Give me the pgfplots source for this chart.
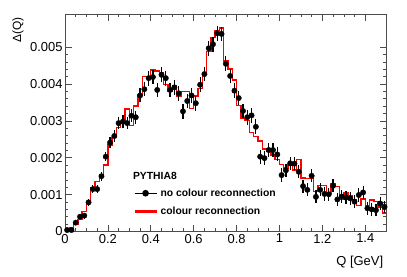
\documentclass[border=0pt]{standalone}
\usepackage{fontspec}
\setmainfont{Liberation Sans}
\usepackage{pgfplots}
\pgfplotsset{compat=1.18}
\pgfplotstableread{
x y ey
0.01 0.00004 0.00004
0.03 0.00004 0.00005
0.05 0.00024 0.00006
0.07 0.00040 0.00007
0.09 0.00043 0.00008
0.11 0.00079 0.00009
0.13 0.00115 0.00010
0.15 0.00115 0.00011
0.17 0.00150 0.00012
0.19 0.00203 0.00013
0.21 0.00241 0.00014
0.23 0.00259 0.00015
0.25 0.00294 0.00016
0.27 0.00298 0.00017
0.29 0.00294 0.00017
0.31 0.00314 0.00018
0.33 0.00310 0.00018
0.35 0.00369 0.00019
0.37 0.00386 0.00019
0.39 0.00416 0.00020
0.41 0.00419 0.00020
0.43 0.00384 0.00020
0.45 0.00425 0.00020
0.47 0.00416 0.00020
0.49 0.00384 0.00020
0.51 0.00391 0.00020
0.53 0.00375 0.00020
0.55 0.00326 0.00020
0.57 0.00354 0.00020
0.59 0.00369 0.00020
0.61 0.00348 0.00020
0.63 0.00398 0.00020
0.65 0.00427 0.00020
0.67 0.00497 0.00020
0.69 0.00508 0.00020
0.71 0.00538 0.00020
0.73 0.00536 0.00020
0.75 0.00455 0.00020
0.77 0.00422 0.00020
0.79 0.00382 0.00020
0.81 0.00362 0.00020
0.83 0.00327 0.00020
0.85 0.00310 0.00020
0.87 0.00315 0.00020
0.89 0.00284 0.00020
0.91 0.00203 0.00019
0.93 0.00199 0.00019
0.95 0.00221 0.00019
0.97 0.00221 0.00019
0.99 0.00209 0.00019
1.01 0.00153 0.00018
1.03 0.00166 0.00018
1.05 0.00185 0.00018
1.07 0.00184 0.00018
1.09 0.00162 0.00018
1.11 0.00123 0.00018
1.13 0.00113 0.00018
1.15 0.00151 0.00018
1.17 0.00094 0.00018
1.19 0.00113 0.00018
1.21 0.00102 0.00018
1.23 0.00101 0.00018
1.25 0.00124 0.00018
1.27 0.00087 0.00018
1.29 0.00095 0.00018
1.31 0.00092 0.00018
1.33 0.00090 0.00018
1.35 0.00081 0.00018
1.37 0.00099 0.00018
1.39 0.00106 0.00018
1.41 0.00063 0.00017
1.43 0.00060 0.00017
1.45 0.00058 0.00017
1.47 0.00076 0.00017
1.49 0.00067 0.00017
}\datatable
\pgfplotstableread{
x y
0.00 0.00003
0.02 0.00010
0.04 0.00020
0.06 0.00032
0.08 0.00055
0.10 0.00080
0.12 0.00118
0.14 0.00135
0.16 0.00153
0.18 0.00180
0.20 0.00235
0.22 0.00255
0.24 0.00282
0.26 0.00298
0.28 0.00332
0.30 0.00287
0.32 0.00340
0.34 0.00370
0.36 0.00420
0.38 0.00420
0.40 0.00438
0.42 0.00435
0.44 0.00430
0.46 0.00398
0.48 0.00380
0.50 0.00395
0.52 0.00368
0.54 0.00380
0.56 0.00380
0.58 0.00333
0.60 0.00368
0.62 0.00388
0.64 0.00430
0.66 0.00488
0.68 0.00527
0.70 0.00545
0.72 0.00552
0.74 0.00463
0.76 0.00441
0.78 0.00411
0.80 0.00341
0.82 0.00307
0.84 0.00301
0.86 0.00269
0.88 0.00258
0.90 0.00246
0.92 0.00224
0.94 0.00218
0.96 0.00208
0.98 0.00196
1.00 0.00181
1.02 0.00172
1.04 0.00180
1.06 0.00167
1.08 0.00196
1.10 0.00145
1.12 0.00144
1.14 0.00144
1.16 0.00108
1.18 0.00124
1.20 0.00124
1.22 0.00104
1.24 0.00131
1.26 0.00122
1.28 0.00086
1.30 0.00105
1.32 0.00096
1.34 0.00086
1.36 0.00070
1.38 0.00088
1.40 0.00070
1.42 0.00085
1.44 0.00082
1.46 0.00067
1.48 0.00050
1.50 0.00050
}\mctable
\begin{document}
\begin{tikzpicture}
\path[use as bounding box] (-65bp,-45.5bp) rectangle (342bp,231.5bp);
\begin{axis}[
  at={(0,0)}, anchor=south west,
  scale only axis, width=321.7bp, height=217.5bp,
  xmin=0, xmax=1.5, ymin=0, ymax=0.0059,
  xtick={0,0.2,0.4,0.6,0.8,1.0,1.2,1.4},
  xticklabels={0,0.2,0.4,0.6,0.8,1,1.2,1.4},
  minor x tick num=3,
  ytick={0,0.001,0.002,0.003,0.004,0.005},
  yticklabels={0,0.001,0.002,0.003,0.004,0.005},
  minor y tick num=4,
  scaled y ticks=false,
  tick align=inside,
  xtick pos=both, ytick pos=both,
  xticklabel pos=lower, yticklabel pos=left,
  major tick length=7bp, minor tick length=3.5bp,
  every tick/.style={black!70, line width=0.6bp},
  axis line style={black!70, line width=0.8bp},
  tick label style={font=\fontsize{13}{15}\selectfont},
  xticklabel style={yshift=1bp},
  yticklabel style={xshift=1bp},
  ylabel={Δ(Q)},
  ylabel style={at={(axis description cs:-0.146,1.002)}, anchor=east, font=\fontsize{12}{14}\selectfont},
  xlabel={Q [GeV]},
  xlabel style={at={(axis description cs:1,-0.158)}, anchor=base east, font=\fontsize{13}{15}\selectfont},
  legend image code/.code={\draw[mark repeat=2,mark phase=2,#1] plot coordinates {(0bp,0bp) (11bp,0bp) (22bp,0bp)};},
  legend style={at={(axis description cs:0.211,0.209)}, anchor=north west, draw=none, fill=none,
    font=\bfseries\fontsize{10.4}{12}\selectfont, row sep=4bp, inner sep=0pt,
    nodes={inner sep=2.5bp}},
  legend cell align=left,
  clip=true,
]
\addplot[red, line width=1.4bp, const plot, forget plot] table[x=x,y=y] {\mctable};
\addplot[black, only marks, mark=*, mark size=2.7bp, forget plot,
  error bars/.cd, y dir=both, y explicit,
  error bar style={line width=1.2bp, black}, error mark=none]
  table[x=x,y=y,y error=ey] {\datatable};
\addlegendimage{black, mark=*, mark size=2.7bp, line width=1.2bp}
\addlegendentry{no colour reconnection}
\addlegendimage{red, line width=3bp}
\addlegendentry{colour reconnection}
\node[anchor=west, font=\bfseries\fontsize{10.4}{12}\selectfont, inner sep=0pt] at (axis description cs:0.211,0.255) {PYTHIA8};
\end{axis}
\end{tikzpicture}
\end{document}
